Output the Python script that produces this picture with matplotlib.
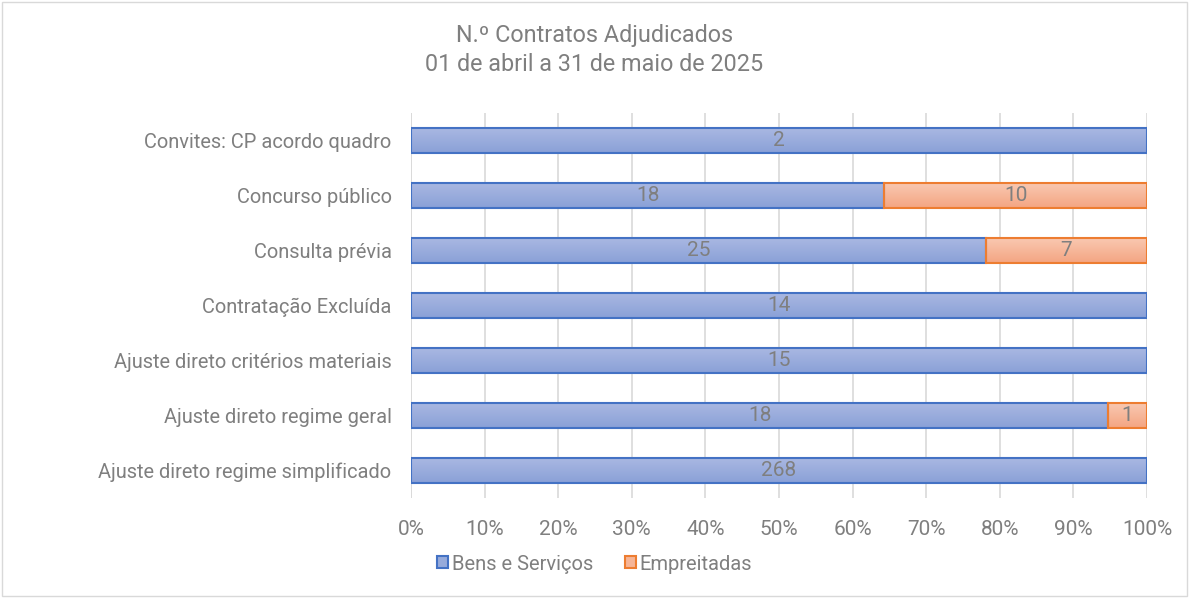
import matplotlib.pyplot as plt
import numpy as np
from matplotlib.patches import Rectangle, Patch
from matplotlib.colors import LinearSegmentedColormap

plt.rcParams['font.family'] = ['Roboto', 'DejaVu Sans']

categories = ['Convites: CP acordo quadro', 'Concurso público', 'Consulta prévia',
              'Contratação Excluída', 'Ajuste direto critérios materiais',
              'Ajuste direto regime geral', 'Ajuste direto regime simplificado']
bens = np.array([2, 18, 25, 14, 15, 18, 268])
empreitadas = np.array([0, 10, 7, 0, 0, 1, 0])

total = bens + empreitadas
p_bens = bens / total * 100
p_emp = empreitadas / total * 100

grey = '#7f7f7f'
fig = plt.figure(figsize=(11.89, 5.98), dpi=100)
ax = fig.add_axes([411 / 1189, 1 - 498 / 598, (1147 - 411) / 1189, (498 - 113) / 598])

y = np.arange(len(categories))[::-1]
h = 0.44


def gradient_bars(bars, top, bottom):
    # vertical gradient inside each bar, clipped to the bar shape
    cmap = LinearSegmentedColormap.from_list('g', [bottom, top])
    grad = np.linspace(0, 1, 64).reshape(-1, 1)
    for b in bars:
        if b.get_width() <= 0:
            continue
        x0, y0 = b.get_x(), b.get_y()
        im = ax.imshow(grad, cmap=cmap, aspect='auto', origin='lower',
                       extent=(x0, x0 + b.get_width(), y0, y0 + b.get_height()), zorder=2.5)
        im.set_clip_path(b)


m_emp = empreitadas > 0
b1 = ax.barh(y, p_bens, height=h, color='none', edgecolor='#4472c4', linewidth=1.5, zorder=3)
b2 = ax.barh(y[m_emp], p_emp[m_emp], left=p_bens[m_emp], height=h, color='none',
             edgecolor='#ed7d31', linewidth=1.5, zorder=3)
gradient_bars(b1, '#a9b8e2', '#8aa0d7')
gradient_bars(b2, '#f9c8b1', '#f4a582')

for yi, pb, pe, b, e in zip(y, p_bens, p_emp, bens, empreitadas):
    if b > 0:
        ax.text(pb / 2, yi, str(b), ha='center', va='center', color=grey, fontsize=15, zorder=4)
    if e > 0:
        ax.text(pb + pe / 2, yi, str(e), ha='center', va='center', color=grey, fontsize=15, zorder=4)

ax.set_xlim(0, 100)
ax.set_ylim(-0.5, len(categories) - 0.5)
ax.set_xticks(np.arange(0, 101, 10))
ax.set_xticklabels([f'{v}%' for v in range(0, 101, 10)])
ax.set_yticks(y)
ax.set_yticklabels(categories)
ax.tick_params(length=0, colors=grey, labelsize=14.4)
ax.tick_params(axis='x', pad=16, labelsize=15)
ax.tick_params(axis='y', pad=14)
ax.xaxis.grid(True, color='#d9d9d9', linewidth=1.2, zorder=0)
for s in ax.spines.values():
    s.set_visible(False)
ax.axvline(0, color='#d9d9d9', linewidth=1.2, zorder=1)

fig.text(0.5, 1 - 50 / 598, 'N.º Contratos Adjudicados\n01 de abril a 31 de maio de 2025',
         ha='center', va='center', color=grey, fontsize=16.8, linespacing=1.3)

handles = [Patch(facecolor='#97abdb', edgecolor='#4472c4', linewidth=1.5),
           Patch(facecolor='#f6b597', edgecolor='#ed7d31', linewidth=1.5)]
fig.legend(handles, ['Bens e Serviços', 'Empreitadas'], loc='center',
           bbox_to_anchor=(0.5, 1 - 564 / 598), ncol=2, frameon=False,
           fontsize=14.5, labelcolor=grey, handlelength=0.55, handleheight=0.55,
           handletextpad=0.15, columnspacing=1.6)

fig.patches.append(Rectangle((0.002, 0.003), 0.996, 0.994, transform=fig.transFigure,
                             fill=False, edgecolor='#d9d9d9', linewidth=1))

fig.savefig('out.png', dpi=100)
